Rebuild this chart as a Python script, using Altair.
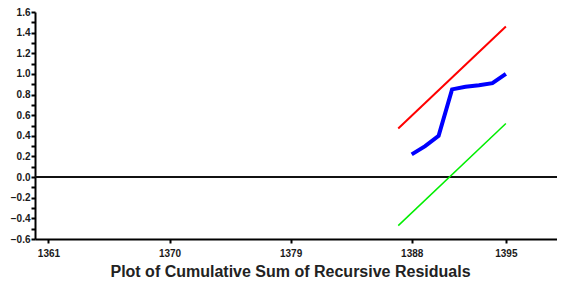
import altair as alt
import pandas as pd

# Data
bound_years = [1387, 1395]
upper_bound = [0.47, 1.46]
lower_bound = [-0.47, 0.52]

cusum_years = [1388, 1389, 1390, 1391, 1392, 1393, 1394, 1395]
cusum_vals = [0.22, 0.30, 0.40, 0.85, 0.875, 0.89, 0.91, 1.00]

x_tick_values = [1361, 1370, 1379, 1388, 1395]
y_tick_values = [-0.6, -0.5, -0.4, -0.3, -0.2, -0.1, 0.0, 0.1, 0.2, 0.3, 0.4,
                 0.5, 0.6, 0.7, 0.8, 0.9, 1.0, 1.1, 1.2, 1.3, 1.4, 1.5, 1.6]

title_text = "Plot of Cumulative Sum of Recursive Residuals"

upper_df = pd.DataFrame({"year": bound_years, "value": upper_bound})
lower_df = pd.DataFrame({"year": bound_years, "value": lower_bound})
cusum_df = pd.DataFrame({"year": cusum_years, "value": cusum_vals})
zero_df = pd.DataFrame({"value": [0.0]})

FONT = "Liberation Sans"

xscale = alt.Scale(domain=[1360, 1398.8], nice=False, zero=False)
yscale = alt.Scale(domain=[-0.6, 1.6], nice=False, zero=False)

xaxis = alt.Axis(
    values=x_tick_values, format="d", grid=False,
    labelFont=FONT, labelFontSize=10, labelFontWeight="bold", labelColor="#1a1a1a",
    domainColor="black", domainWidth=2, tickColor="black", tickWidth=2, tickSize=4,
    labelPadding=5,
    title=title_text, titleFont=FONT, titleFontSize=16, titleFontWeight="bold",
    titleColor="#222222", titlePadding=5, titleX=255,
)
yaxis = alt.Axis(
    values=y_tick_values, grid=False,
    labelExpr="abs(round(datum.value*10)) % 2 == 0 ? format(datum.value, '.1f') : ''",
    labelFont=FONT, labelFontSize=10, labelFontWeight="bold", labelColor="#1a1a1a",
    domainColor="black", domainWidth=2, tickColor="black", tickWidth=2, tickSize=4,
    labelPadding=1, title=None,
)

x_enc = alt.X("year:Q", scale=xscale, axis=xaxis)
y_enc = alt.Y("value:Q", scale=yscale, axis=yaxis)

zero = alt.Chart(zero_df).mark_rule(color="#111111", strokeWidth=2).encode(
    y=alt.Y("value:Q", scale=yscale, axis=yaxis)
)
upper = alt.Chart(upper_df).mark_line(color="#ff0000", strokeWidth=2).encode(x=x_enc, y=y_enc)
lower = alt.Chart(lower_df).mark_line(color="#00ee00", strokeWidth=1.5).encode(x=x_enc, y=y_enc)
cusum = alt.Chart(cusum_df).mark_line(color="#0000ff", strokeWidth=4).encode(x=x_enc, y=y_enc)

chart = alt.layer(zero, upper, lower, cusum).properties(
    width=522, height=227,
    autosize=alt.AutoSizeParams(type="none"),
    padding={"left": 27, "top": 4, "right": 0, "bottom": 46},
).configure_view(stroke=None)

chart.save("out.html", embed_options={"renderer": "svg", "actions": False})
